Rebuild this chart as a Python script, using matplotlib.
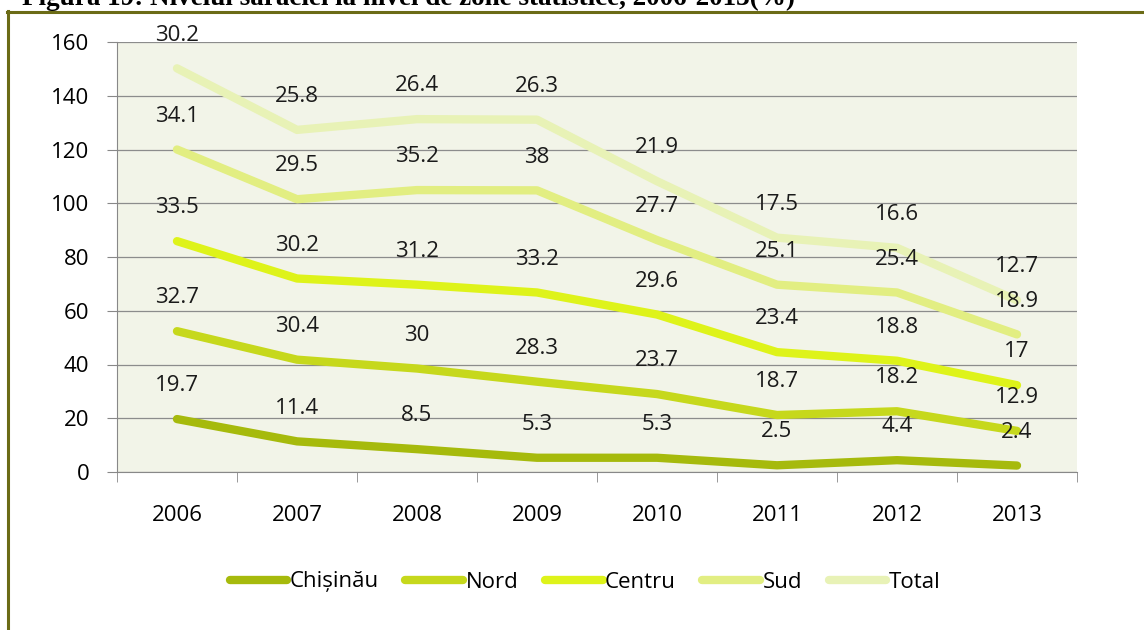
import matplotlib
matplotlib.use("Agg")
import matplotlib.pyplot as plt
from matplotlib.lines import Line2D
import numpy as np

years = ["2006", "2007", "2008", "2009", "2010", "2011", "2012", "2013"]
series_names = ["Chișinău", "Nord", "Centru", "Sud", "Total"]
chisinau = [19.7, 11.4, 8.5, 5.3, 5.3, 2.5, 4.4, 2.4]
nord = [32.7, 30.4, 30, 28.3, 23.7, 18.7, 18.2, 12.9]
centru = [33.5, 30.2, 31.2, 33.2, 29.6, 23.4, 18.8, 17]
sud = [34.1, 29.5, 35.2, 38, 27.7, 25.1, 25.4, 18.9]
total = [30.2, 25.8, 26.4, 26.3, 21.9, 17.5, 16.6, 12.7]
colors = ["#a6ba0c", "#c6d81c", "#def31a", "#e2ee82", "#e8f2b6"]

plt.rcParams['font.family'] = ['Open Sans', 'DejaVu Sans']
FS = 16

fig = plt.figure(figsize=(11.44, 6.30), dpi=100)
W, H = 1144, 630
ax = fig.add_axes([117 / W, 1 - 472 / H, (1077 - 117) / W, (472 - 42) / H])
ax.set_facecolor("#f2f4e8")

data = [chisinau, nord, centru, sud, total]
x = np.arange(len(years))
cum = np.zeros(len(years))
for name, vals, c in zip(series_names, data, colors):
    cum = cum + np.array(vals)
    ax.plot(x, cum, color=c, lw=6, solid_capstyle="round", solid_joinstyle="round",
            zorder=3, label=name)
    for xi, yi, v in zip(x, cum, vals):
        ax.annotate(f"{v:g}", (xi, yi), xytext=(0, 24), textcoords="offset points",
                    ha="center", va="center", fontsize=FS, color="#1a1a1a", zorder=4)

ax.set_xlim(-0.5, 7.5)
ax.set_ylim(0, 160)
ax.set_yticks(np.arange(0, 161, 20))
ax.set_xticks(x)
ax.set_xticklabels(years)
ax.set_xticks(np.arange(-0.5, 7.6, 1), minor=True)
ax.tick_params(axis="x", which="major", length=0, pad=24, labelsize=FS)
ax.tick_params(axis="x", which="minor", length=7, color="#888888")
ax.tick_params(axis="y", length=7, color="#888888", labelsize=FS, pad=13)
ax.grid(axis="y", color="#8c8c8c", lw=0.9, zorder=1)
for s in ["top", "right"]:
    ax.spines[s].set_visible(False)
ax.spines["left"].set_color("#888888")
ax.spines["bottom"].set_color("#888888")

handles = [Line2D([0], [0], color=c, lw=6, solid_capstyle="round") for c in colors]
fig.legend(handles, series_names, loc="center", bbox_to_anchor=(585 / W, 1 - 582 / H),
           ncol=5, frameon=False, fontsize=FS, handlelength=2.6, handletextpad=0.1,
           columnspacing=1.2)

# frame lines
fig.add_artist(Line2D([8 / W, 8 / W], [0, 1 - 11 / H], color="#6b6b16", lw=2.2,
                      transform=fig.transFigure))
fig.add_artist(Line2D([7 / W, 1], [1 - 12 / H, 1 - 12 / H], color="#6b6b16", lw=2.2,
                      transform=fig.transFigure))

fig.text(22 / W, 1 - 5 / H, "Figura 19: Nivelul sărăciei la nivel de zone statistice, 2006-2013(%)",
         fontsize=19.5, fontweight="bold", family=["Liberation Serif", "DejaVu Serif"],
         va="baseline", ha="left")

fig.savefig("out.png", dpi=100)
